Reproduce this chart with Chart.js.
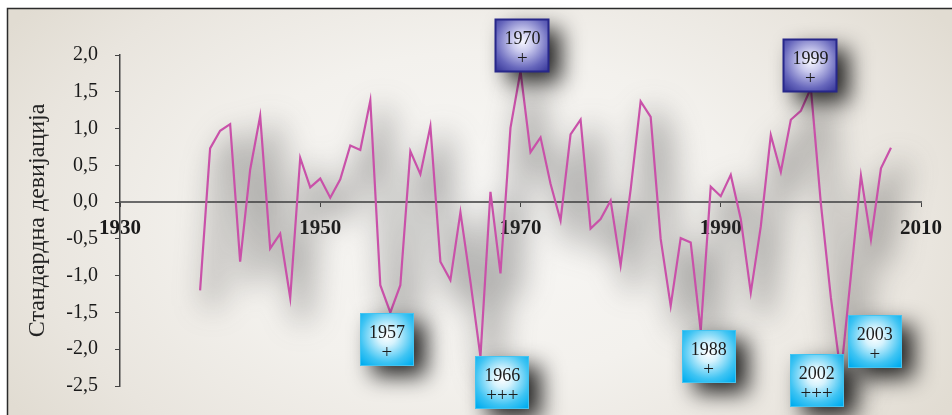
<!DOCTYPE html>
<html>
<head>
<meta charset="utf-8">
<script src="https://cdn.jsdelivr.net/npm/chart.js@4.4.1/dist/chart.umd.min.js"></script>
<style>
  html, body { margin: 0; padding: 0; background: #fff; overflow: hidden; }
  #wrap { width: 952px; height: 415px; position: relative; }
</style>
</head>
<body>
<div id="wrap"><canvas id="chart" width="952" height="415"></canvas></div>
<script>
// Annual standardized deviation series
const years = [
  1938, 1939, 1940, 1941, 1942, 1943, 1944, 1945, 1946, 1947,
  1948, 1949, 1950, 1951, 1952, 1953, 1954, 1955, 1956, 1957,
  1958, 1959, 1960, 1961, 1962, 1963, 1964, 1965, 1966, 1967,
  1968, 1969, 1970, 1971, 1972, 1973, 1974, 1975, 1976, 1977,
  1978, 1979, 1980, 1981, 1982, 1983, 1984, 1985, 1986, 1987,
  1988, 1989, 1990, 1991, 1992, 1993, 1994, 1995, 1996, 1997,
  1998, 1999, 2000, 2001, 2002, 2003, 2004, 2005, 2006, 2007
];
const deviation = [
  -1.20, 0.73, 0.97, 1.06, -0.81, 0.44, 1.17, -0.63, -0.43, -1.30,
   0.60, 0.20, 0.32, 0.06, 0.31, 0.77, 0.71, 1.38, -1.13, -1.50,
  -1.13, 0.69, 0.38, 1.03, -0.81, -1.06, -0.14, -1.08, -2.10, 0.14,
  -0.97, 1.01, 1.78, 0.68, 0.88, 0.25, -0.25, 0.92, 1.12, -0.36,
  -0.23, 0.02, -0.86, 0.17, 1.37, 1.16, -0.50, -1.41, -0.49, -0.55,
  -1.75, 0.21, 0.08, 0.37, -0.23, -1.23, -0.33, 0.91, 0.41, 1.12,
   1.24, 1.55, -0.02, -1.30, -2.35, -1.00, 0.36, -0.51, 0.46, 0.74
];

// Axis ranges and ticks
const xRange = [1930, 2010];
const xStep = 20;
const yRange = [-2.5, 2.0];
const yStep = 0.5;
const yTitle = 'Стандардна девијација';

// Marked extreme years: label, intensity marks, sign of the extreme
const calloutYears = ['1957', '1966', '1970', '1988', '1999', '2002', '2003'];
const calloutMarks = ['+', '+++', '+', '+', '+', '+++', '+'];
const calloutSign  = ['low', 'low', 'high', 'low', 'high', 'low', 'low'];
// Callout box centres, in axis units (year, deviation)
const calloutAtX = [1956.66, 1968.18, 1970.19, 1988.79, 1998.96, 1999.58, 2005.39];
const calloutAtY = [-1.87, -2.45, 2.13, -2.10, 1.86, -2.42, -1.89];

const SERIF = '"Liberation Serif", "DejaVu Serif", serif';

// Panel background with frame
const panelPlugin = {
  id: 'panel',
  beforeDraw(chart) {
    const { ctx, width: W, height: H } = chart;
    ctx.save();
    ctx.fillStyle = '#ffffff';
    ctx.fillRect(0, 0, W, H);
    ctx.save();
    ctx.translate(480, 215);
    ctx.scale(1, 0.62);
    const g = ctx.createRadialGradient(0, 0, 20, 0, 0, 560);
    g.addColorStop(0, '#F8F7F5');
    g.addColorStop(0.45, '#F3F1ED');
    g.addColorStop(0.8, '#E9E5DE');
    g.addColorStop(1, '#E1DCD2');
    ctx.fillStyle = g;
    ctx.fillRect(-480, -400, 1000, 800);
    ctx.restore();
    ctx.fillStyle = '#ffffff';
    ctx.fillRect(0, 0, W, 8);
    ctx.fillRect(0, 0, 7, H);
    ctx.strokeStyle = '#2b2b2b';
    ctx.lineWidth = 1.5;
    ctx.beginPath();
    ctx.moveTo(7.5, H);
    ctx.lineTo(7.5, 8.5);
    ctx.lineTo(W, 8.5);
    ctx.stroke();
    ctx.restore();
  }
};

// Soft blurred shadow beneath the series line
const hazePlugin = {
  id: 'haze',
  beforeDatasetsDraw(chart) {
    const pts = chart.getDatasetMeta(0).data;
    if (!pts.length) return;
    const { ctx } = chart;
    ctx.save();
    ctx.beginPath();
    ctx.rect(8, 9, chart.width - 8, chart.height - 9);
    ctx.clip();
    ctx.filter = 'blur(15px)';
    ctx.translate(12, 16);
    ctx.strokeStyle = 'rgba(60,60,60,0.36)';
    ctx.lineWidth = 18;
    ctx.lineJoin = 'round';
    ctx.beginPath();
    pts.forEach((p, i) => (i ? ctx.lineTo(p.x, p.y) : ctx.moveTo(p.x, p.y)));
    ctx.stroke();
    ctx.restore();
  }
};

// Labelled boxes for extreme years
const calloutPlugin = {
  id: 'callouts',
  afterDraw(chart) {
    const { ctx, scales: { x, y } } = chart;
    const w = 54, h = 53;
    calloutYears.forEach((label, i) => {
      const cx = x.getPixelForValue(calloutAtX[i]);
      const cy = y.getPixelForValue(calloutAtY[i]);
      const left = Math.round(cx - w / 2), top = Math.round(cy - h / 2);
      const high = calloutSign[i] === 'high';

      ctx.save();
      ctx.shadowColor = 'rgba(0,0,0,0.85)';
      ctx.shadowBlur = 22;
      ctx.shadowOffsetX = 12;
      ctx.shadowOffsetY = 10;
      ctx.fillStyle = high ? '#3F3F9E' : '#00AEEF';
      ctx.fillRect(left, top, w, h);
      ctx.restore();

      ctx.save();
      const g = ctx.createRadialGradient(cx, cy - 4, 0, cx, cy - 4, 38);
      if (high) {
        g.addColorStop(0, '#F6F6FF');
        g.addColorStop(0.28, '#CACAEE');
        g.addColorStop(0.72, '#6767BC');
        g.addColorStop(1, '#3A3A9B');
      } else {
        g.addColorStop(0, '#FFFFFF');
        g.addColorStop(0.25, '#D6F3FD');
        g.addColorStop(0.7, '#3FC4F3');
        g.addColorStop(1, '#00ADEF');
      }
      ctx.fillStyle = g;
      ctx.fillRect(left, top, w, h);
      ctx.strokeStyle = high ? '#27278A' : '#43C3F0';
      ctx.lineWidth = high ? 2 : 1;
      ctx.strokeRect(left + 0.5, top + 0.5, w - 1, h - 1);

      ctx.fillStyle = '#1c1c1c';
      ctx.textAlign = 'center';
      ctx.textBaseline = 'middle';
      ctx.font = '18px ' + SERIF;
      ctx.fillText(label, cx, top + 20);
      ctx.font = '19px ' + SERIF;
      ctx.fillText(calloutMarks[i], cx, top + 40);
      ctx.restore();
    });
  }
};

new Chart(document.getElementById('chart'), {
  type: 'line',
  data: {
    datasets: [{
      data: years.map((yr, i) => ({ x: yr, y: deviation[i] })),
      borderColor: '#C951A9',
      borderWidth: 2.2,
      pointRadius: 0,
      tension: 0,
      fill: false
    }]
  },
  options: {
    responsive: false,
    devicePixelRatio: 1,
    animation: false,
    layout: { padding: { left: 0, top: 55, right: 26, bottom: 29 } },
    plugins: { legend: { display: false }, tooltip: { enabled: false } },
    scales: {
      x: {
        type: 'linear',
        position: { y: 0 },
        min: xRange[0],
        max: xRange[1],
        border: { color: '#6a6a6a', width: 2 },
        grid: { drawOnChartArea: false, drawTicks: true, tickLength: 4, color: '#444' },
        ticks: {
          stepSize: xStep,
          padding: 10,
          color: '#1a1a1a',
          font: { family: SERIF, size: 21, weight: 'bold' },
          callback: v => String(v)
        }
      },
      y: {
        type: 'linear',
        position: 'left',
        min: yRange[0],
        max: yRange[1],
        afterFit(scale) { scale.width = 120; },
        border: { color: '#444', width: 1.5 },
        grid: { drawOnChartArea: false, drawTicks: true, tickLength: 5, color: '#444' },
        ticks: {
          stepSize: yStep,
          padding: 17,
          color: '#1a1a1a',
          font: { family: SERIF, size: 20 },
          callback: v => Number(v).toFixed(1).replace('.', ',')
        },
        title: {
          display: true,
          text: yTitle,
          color: '#222',
          font: { family: SERIF, size: 24 },
          padding: { top: 23, bottom: 0 }
        }
      }
    }
  },
  plugins: [panelPlugin, hazePlugin, calloutPlugin]
});
</script>
</body>
</html>
